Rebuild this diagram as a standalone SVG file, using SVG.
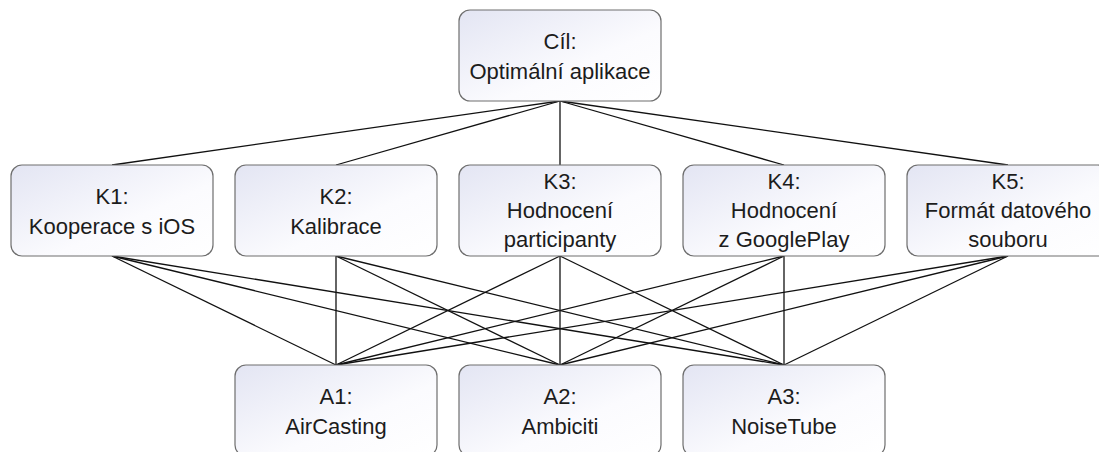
<svg xmlns="http://www.w3.org/2000/svg" width="1099" height="452" viewBox="0 0 1099 452">
  <style>
    .box { fill: url(#boxFill); stroke: #6e6e6e; stroke-width: 1.2; }
    .lbl { font-family: "Liberation Sans", Arial, sans-serif; font-size: 22px; fill: #1c1c1c; text-anchor: middle; }
    .edge { stroke: #111; stroke-width: 1.3; fill: none; }
  </style>
  <defs>
    <linearGradient id="boxFill" x1="0" y1="0" x2="1" y2="1">
      <stop offset="0" stop-color="#e3e5f3"/>
      <stop offset="0.6" stop-color="#fbfbfe"/>
      <stop offset="1" stop-color="#ffffff"/>
    </linearGradient>
  </defs>
  <rect width="1099" height="452" fill="#ffffff"/>

  <!-- connectors: goal to criteria, criteria to alternatives -->
  <g id="connectors" class="edge">
    <line x1="560" y1="101" x2="112" y2="165"/>
    <line x1="560" y1="101" x2="336" y2="165"/>
    <line x1="560" y1="101" x2="560" y2="165"/>
    <line x1="560" y1="101" x2="784" y2="165"/>
    <line x1="560" y1="101" x2="1008" y2="165"/>

    <line x1="112" y1="256" x2="336" y2="365"/>
    <line x1="112" y1="256" x2="560" y2="365"/>
    <line x1="112" y1="256" x2="784" y2="365"/>
    <line x1="336" y1="256" x2="336" y2="365"/>
    <line x1="336" y1="256" x2="560" y2="365"/>
    <line x1="336" y1="256" x2="784" y2="365"/>
    <line x1="560" y1="256" x2="336" y2="365"/>
    <line x1="560" y1="256" x2="560" y2="365"/>
    <line x1="560" y1="256" x2="784" y2="365"/>
    <line x1="784" y1="256" x2="336" y2="365"/>
    <line x1="784" y1="256" x2="560" y2="365"/>
    <line x1="784" y1="256" x2="784" y2="365"/>
    <line x1="1008" y1="256" x2="336" y2="365"/>
    <line x1="1008" y1="256" x2="560" y2="365"/>
    <line x1="1008" y1="256" x2="784" y2="365"/>
  </g>

  <!-- goal -->
  <g id="goal">
    <rect class="box" x="459" y="10" width="202" height="91" rx="11"/>
    <text class="lbl" x="560" y="49">Cíl:</text>
    <text class="lbl" x="560" y="79">Optimální aplikace</text>
  </g>

  <!-- criteria -->
  <g id="k1">
    <rect class="box" x="11" y="165" width="202" height="91" rx="11"/>
    <text class="lbl" x="112" y="204">K1:</text>
    <text class="lbl" x="112" y="234">Kooperace s iOS</text>
  </g>
  <g id="k2">
    <rect class="box" x="235" y="165" width="202" height="91" rx="11"/>
    <text class="lbl" x="336" y="204">K2:</text>
    <text class="lbl" x="336" y="234">Kalibrace</text>
  </g>
  <g id="k3">
    <rect class="box" x="459" y="165" width="202" height="91" rx="11"/>
    <text class="lbl" x="560" y="188.5">K3:</text>
    <text class="lbl" x="560" y="217.5">Hodnocení</text>
    <text class="lbl" x="560" y="246.5">participanty</text>
  </g>
  <g id="k4">
    <rect class="box" x="683" y="165" width="202" height="91" rx="11"/>
    <text class="lbl" x="784" y="188.5">K4:</text>
    <text class="lbl" x="784" y="217.5">Hodnocení</text>
    <text class="lbl" x="784" y="246.5">z GooglePlay</text>
  </g>
  <g id="k5">
    <rect class="box" x="907" y="165" width="202" height="91" rx="11"/>
    <text class="lbl" x="1008" y="188.5">K5:</text>
    <text class="lbl" x="1008" y="217.5">Formát datového</text>
    <text class="lbl" x="1008" y="246.5">souboru</text>
  </g>

  <!-- alternatives -->
  <g id="a1">
    <rect class="box" x="235" y="365" width="202" height="91" rx="11"/>
    <text class="lbl" x="336" y="404">A1:</text>
    <text class="lbl" x="336" y="434">AirCasting</text>
  </g>
  <g id="a2">
    <rect class="box" x="459" y="365" width="202" height="91" rx="11"/>
    <text class="lbl" x="560" y="404">A2:</text>
    <text class="lbl" x="560" y="434">Ambiciti</text>
  </g>
  <g id="a3">
    <rect class="box" x="683" y="365" width="202" height="91" rx="11"/>
    <text class="lbl" x="784" y="404">A3:</text>
    <text class="lbl" x="784" y="434">NoiseTube</text>
  </g>
</svg>
